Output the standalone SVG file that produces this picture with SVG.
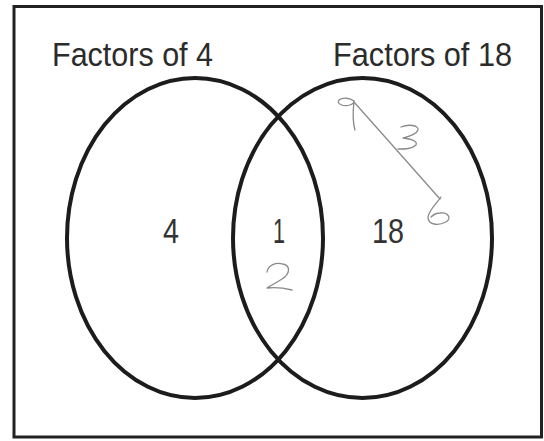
<svg xmlns="http://www.w3.org/2000/svg" width="544" height="441" viewBox="0 0 544 441">
  <style>
    .set { fill: none; stroke: #1c1c1c; stroke-width: 4; }
    .title { font-family: "Liberation Sans", Arial, sans-serif; font-size: 33px; fill: #2b2b2b; }
    .num { font-family: "Liberation Sans", Arial, sans-serif; font-size: 35px; fill: #333333; text-anchor: middle; }
    .hand { fill: none; stroke: #8a8a8a; stroke-width: 1.3; stroke-linecap: round; stroke-linejoin: round; }
  </style>
  <rect x="0" y="0" width="544" height="441" fill="#ffffff"/>
  <rect x="14" y="6.5" width="527.5" height="430.5" fill="none" stroke="#222222" stroke-width="3"/>

  <g id="set-factors-of-4">
    <ellipse class="set" cx="195" cy="238" rx="128" ry="160"/>
    <text class="title" x="52" y="66" textLength="161" lengthAdjust="spacingAndGlyphs">Factors of 4</text>
    <text class="num" x="171" y="243" textLength="16" lengthAdjust="spacingAndGlyphs">4</text>
  </g>

  <g id="set-factors-of-18">
    <ellipse class="set" cx="362.5" cy="238" rx="129.5" ry="160"/>
    <text class="title" x="333" y="66" textLength="179" lengthAdjust="spacingAndGlyphs">Factors of 18</text>
    <text class="num" x="388" y="243" textLength="32" lengthAdjust="spacingAndGlyphs">18</text>
  </g>

  <g id="intersection">
    <text class="num" x="279" y="243" textLength="12" lengthAdjust="spacingAndGlyphs">1</text>
    <path id="hand-2" class="hand" d="M267,272 C268,265 276,262 283,264 C291,266 290,274 282,279 C276,283 270,286 267,288 C275,287 284,288 292,290"/>
  </g>

  <g id="hand-9">
    <path class="hand" d="M354,101 C350,98 343,97 339,100 C336,104 344,107 350,105 C353,104 354,102 354,101 C353,110 352,120 355,130"/>
  </g>
  <g id="hand-3">
    <path class="hand" d="M401,127 C408,124 419,125 418,130 C416,135 407,137 403,138 C411,139 418,141 416,145 C412,149 405,149 398,149"/>
  </g>
  <g id="hand-6">
    <path class="hand" d="M441,197 C437,203 429,210 428,217 C428,225 438,226 446,222 C452,218 448,212 440,213 C436,213 433,215 431,217"/>
  </g>

  <g id="connectors">
    <line class="hand" x1="354" y1="102" x2="440" y2="199"/>
  </g>
</svg>
